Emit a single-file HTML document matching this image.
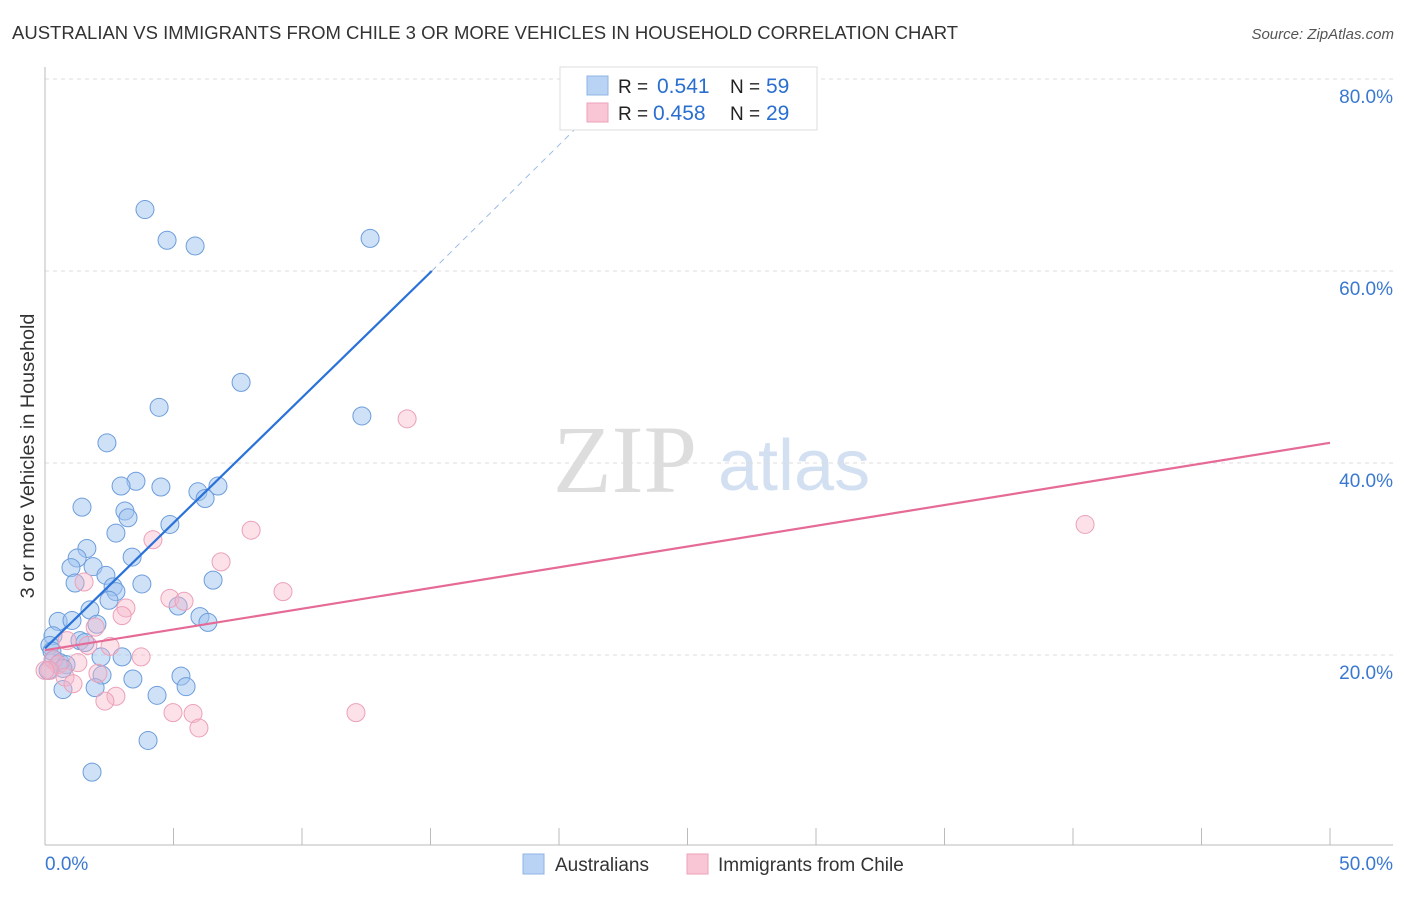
<!DOCTYPE html>
<html><head><meta charset="utf-8"><style>
body{margin:0;background:#fff;font-family:"Liberation Sans",sans-serif;}
svg text{font-family:"Liberation Sans",sans-serif;}
</style></head><body>
<svg id="chart" width="1406" height="892">
<text x="12" y="39" font-size="18.5" fill="#333">AUSTRALIAN VS IMMIGRANTS FROM CHILE 3 OR MORE VEHICLES IN HOUSEHOLD CORRELATION CHART</text>
<text x="1394" y="39" font-size="15" fill="#555" font-style="italic" text-anchor="end">Source: ZipAtlas.com</text>
<text x="0" y="0" transform="translate(34,456) rotate(-90)" font-size="19.8" fill="#333" text-anchor="middle">3 or more Vehicles in Household</text>
<text x="553" y="492" font-size="96" fill="#ddd" style="font-family:'Liberation Serif',serif">ZIP</text>
<text x="718" y="490" font-size="72" fill="#d3e0f2">atlas</text>
<g id="grid"></g><g id="pts"></g><g id="lines"></g>
<g>
<rect x="560" y="67" width="257" height="63" fill="#fff" stroke="#ddd"/>
<rect x="587" y="76" width="21" height="19" fill="#b9d3f5" stroke="#8fb4e6"/>
<rect x="587" y="103" width="21" height="19" fill="#f9c6d6" stroke="#eea3bb"/>
<text x="618" y="93" font-size="19" fill="#222">R = </text><text x="657" y="93" font-size="21" fill="#2a6fd0">0.541</text>
<text x="730" y="93" font-size="19" fill="#222">N = </text><text x="766" y="93" font-size="21" fill="#2a6fd0">59</text>
<text x="618" y="120" font-size="19" fill="#222">R = </text><text x="653" y="120" font-size="21" fill="#2a6fd0">0.458</text>
<text x="730" y="120" font-size="19" fill="#222">N = </text><text x="766" y="120" font-size="21" fill="#2a6fd0">29</text>
</g>
<g>
<rect x="523" y="854" width="21" height="20" fill="#b9d3f5" stroke="#8fb4e6"/>
<text x="555" y="871" font-size="19" fill="#333">Australians</text>
<rect x="687" y="854" width="21" height="20" fill="#f9c6d6" stroke="#eea3bb"/>
<text x="718" y="871" font-size="19" fill="#333">Immigrants from Chile</text>
</g>
</svg>
<script>
const blueX=[3.89,4.75,5.84,12.65,7.63,4.44,12.33,2.41,3.54,2.96,4.51,1.44,3.11,3.23,5.95,6.23,6.73,4.86,2.76,1.63,1.25,3.39,1.01,1.87,2.37,1.17,3.77,2.65,2.76,6.54,2.49,5.18,1.75,0.51,1.05,6.03,6.34,2.02,0.31,1.36,1.56,0.19,0.27,2.18,3.0,0.35,0.58,0.82,0.70,2.22,3.42,5.29,5.49,0.70,1.95,4.36,4.01,1.83,0.12];
const blueY=[66.4,63.2,62.6,63.4,48.4,45.8,44.9,42.1,38.1,37.6,37.5,35.4,35.0,34.3,37.0,36.3,37.6,33.6,32.7,31.1,30.1,30.2,29.1,29.2,28.3,27.5,27.4,27.1,26.6,27.8,25.7,25.1,24.7,23.5,23.6,24.0,23.4,23.2,22.0,21.5,21.3,21.0,20.4,19.8,19.8,19.5,19.2,19.0,18.6,17.9,17.5,17.8,16.7,16.4,16.6,15.8,11.1,7.8,18.4];
const pinkX=[14.09,40.47,8.02,4.20,6.85,1.52,9.26,4.86,5.41,3.15,3.0,1.95,0.86,2.53,1.67,3.74,0.31,0.51,1.28,0.19,0.78,2.06,1.09,2.76,2.33,4.98,5.76,12.1,5.99,0.0];
const pinkY=[44.6,33.6,33.0,32.0,29.7,27.6,26.6,25.9,25.6,24.9,24.1,22.9,21.5,20.9,21.0,19.8,19.5,19.0,19.2,18.4,17.7,18.1,17.0,15.7,15.2,14.0,13.9,14.0,12.4,18.4];
const blueTrend=[20.7,60.0,15.05];
const blueDashEnd=[21.2,76.3];
const pinkTrend=[20.5,42.1];
const yTicks=[20,40,60,80];
const xTickLabels=["0.0%","50.0%"];
const sx=v=>45+v*25.7, sy=v=>847-v*9.6;
const NS="http://www.w3.org/2000/svg";
function mk(t,a,p){const e=document.createElementNS(NS,t);for(const k in a)e.setAttribute(k,a[k]);p.appendChild(e);return e;}
const grid=document.getElementById('grid');
yTicks.forEach(v=>{
 const l=mk('line',{x1:45,x2:1393,y1:sy(v),y2:sy(v),stroke:'#ddd','stroke-dasharray':'4,4'},grid);
 
 
 const t=mk('text',{x:1393,y:sy(v)+24,'font-size':19,fill:'#3a78d0','text-anchor':'end'},grid);
 t.textContent=v.toFixed(1)+'%';
 
 
});
const ax=mk('line',{x1:45,x2:1393,y1:845,y2:845,stroke:'#bbb'},grid);


const ay=mk('line',{x1:45,x2:45,y1:67,y2:845,stroke:'#bbb'},grid);


for(let i=0;i<=10;i++){const tk=mk('line',{x1:sx(i*5),x2:sx(i*5),y1:828,y2:845,stroke:'#bbb'},grid);
 
 }
[[0,'start',45],[50,'end',1393]].forEach((d,i)=>{const t=mk('text',{x:d[2],y:870,'font-size':19,fill:'#3a78d0','text-anchor':d[1]},grid);t.textContent=xTickLabels[i];
 
 });
const pts=document.getElementById('pts');
blueX.forEach((x,i)=>{const c=mk('circle',{cx:sx(x),cy:sy(blueY[i]),r:9,fill:'rgba(160,196,240,0.5)',stroke:'#6c9ddc','stroke-width':1},pts);
 
 });
pinkX.forEach((x,i)=>{const c=mk('circle',{cx:sx(x),cy:sy(pinkY[i]),r:9,fill:'rgba(248,180,200,0.4)',stroke:'#eba1b9','stroke-width':1},pts);
 
 });
const lines=document.getElementById('lines');
const bl=mk('line',{x1:sx(0),y1:sy(blueTrend[0]),x2:sx(blueTrend[2]),y2:sy(blueTrend[1]),stroke:'#2a72d8','stroke-width':2.2},lines);


const bd=mk('line',{x1:sx(blueTrend[2]),y1:sy(blueTrend[1]),x2:sx(blueDashEnd[0]),y2:sy(blueDashEnd[1]),stroke:'#9bbbe6','stroke-width':1,'stroke-dasharray':'6,5'},lines);


const pl=mk('line',{x1:sx(0),y1:sy(pinkTrend[0]),x2:sx(50),y2:sy(pinkTrend[1]),stroke:'#e56b96','stroke-width':2.2},lines);


</script>
</body></html>
